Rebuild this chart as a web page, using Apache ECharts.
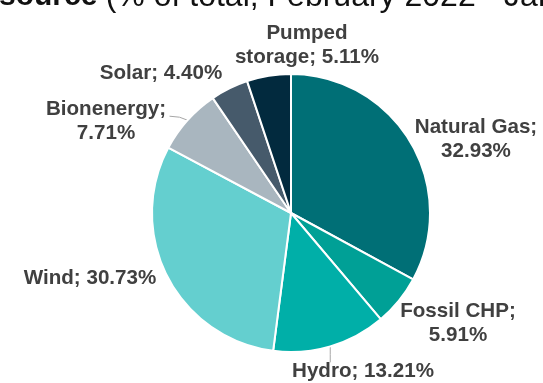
<!DOCTYPE html>
<html>
<head>
<meta charset="utf-8">
<script src="https://cdn.jsdelivr.net/npm/echarts@6/dist/echarts.min.js"></script>
<style>
  html, body { margin: 0; padding: 0; background: #ffffff; }
  #chart { width: 543px; height: 383px; }
</style>
</head>
<body>
<div id="chart"></div>
<script>
// Electricity generation mix by source
const sources = ['Natural Gas', 'Fossil CHP', 'Hydro', 'Wind', 'Bionenergy', 'Solar', 'Pumped storage'];
const shares = [32.93, 5.91, 13.21, 30.73, 7.71, 4.40, 5.11];
const labelTexts = ['Natural Gas;\n32.93%', 'Fossil CHP;\n5.91%', 'Hydro; 13.21%', 'Wind; 30.73%',
                    'Bionenergy;\n7.71%', 'Solar; 4.40%', 'Pumped\nstorage; 5.11%'];

// Styling and label placement
const sliceColors = ['#006f76', '#00a096', '#00afa8', '#64cfcf', '#a9b6bf', '#465a6b', '#022a3e'];
const labelCenters = [[476, 139], [458, 323], [363, 371], [90, 278], [106, 121], [161, 73], [307, 45]];
const showGuide = [false, false, true, false, true, false, false];

const chart = echarts.init(document.getElementById('chart'), null, { renderer: 'canvas' });

const data = sources.map((name, i) => ({
  name: name,
  value: shares[i],
  itemStyle: { color: sliceColors[i] },
  label: {
    formatter: () => labelTexts[i].split('\n').map(s => '{t|' + s + '}').join('\n')
  },
  labelLine: { show: showGuide[i] }
}));

const titleFont = 'Liberation Sans, Arial, sans-serif';

chart.setOption({
  animation: false,
  graphic: [{
    type: 'text',
    left: -1,
    top: -19,
    style: {
      text: '{b|source }{n|(% of total, February 2022 - January 2023)}',
      rich: {
        b: { fontFamily: titleFont, fontSize: 30, fontWeight: 'bold', fill: '#111111', lineHeight: 30 },
        n: { fontFamily: titleFont, fontSize: 32, fill: '#111111', lineHeight: 30 }
      }
    }
  }],
  series: [{
    type: 'pie',
    center: [291, 213],
    radius: 139,
    startAngle: 90,
    clockwise: true,
    avoidLabelOverlap: false,
    itemStyle: { borderColor: '#ffffff', borderWidth: 2 },
    label: {
      show: true,
      position: 'outside',
      color: '#404040',
      rich: {
        t: {
          fontFamily: 'Liberation Sans, Arial, sans-serif',
          fontSize: 20.6,
          fontWeight: 'bold',
          color: '#404040',
          lineHeight: 24,
          align: 'center'
        }
      }
    },
    labelLine: {
      length: 10,
      length2: 10,
      lineStyle: { color: '#a6a6a6', width: 1 }
    },
    labelLayout: function (params) {
      const i = params.dataIndex;
      const c = labelCenters[i];
      const out = { x: c[0], y: c[1], align: 'center', verticalAlign: 'middle' };
      const p0 = params.labelLinePoints && params.labelLinePoints[0];
      if (p0) {
        if (i === 2) {
          out.labelLinePoints = [[p0[0], p0[1]], [p0[0], p0[1] + 8], [p0[0], p0[1] + 16]];
        } else if (i === 4) {
          out.labelLinePoints = [[p0[0], p0[1]], [p0[0] - 8, p0[1] - 3], [p0[0] - 18, p0[1] - 4]];
        }
      }
      return out;
    },
    data: data
  }]
});
</script>
</body>
</html>
